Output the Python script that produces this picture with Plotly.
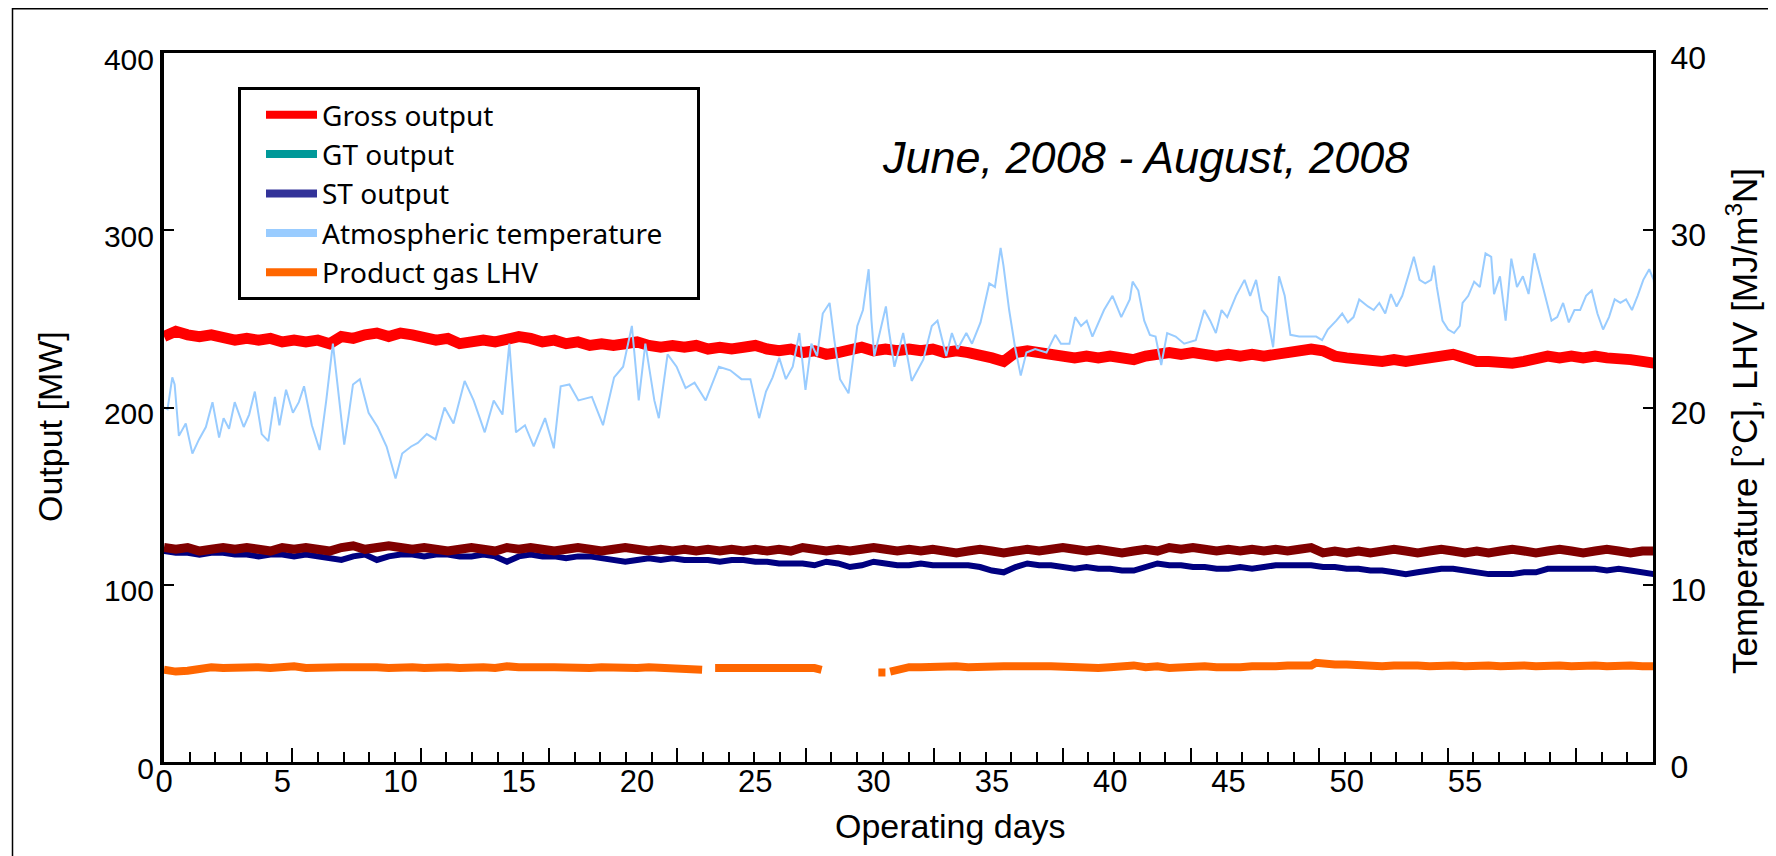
import plotly.graph_objects as go

# ---------------- data ----------------
out_days = [0, 0.5, 1, 1.5, 2, 2.5, 3, 3.5, 4, 4.5, 5, 5.5, 6, 6.5, 7, 7.5, 8, 8.5, 9, 9.5,
            10, 10.5, 11, 11.5, 12, 12.5, 13, 13.5, 14, 14.5, 15, 15.5, 16, 16.5, 17, 17.5, 18, 18.5, 19, 19.5,
            20, 20.5, 21, 21.5, 22, 22.5, 23, 23.5, 24, 24.5, 25, 25.5, 26, 26.5, 27, 27.5, 28, 28.5, 29, 29.5,
            30, 30.5, 31, 31.5, 32, 32.5, 33, 33.5, 34, 34.5, 35, 35.5, 36, 36.5, 37, 37.5, 38, 38.5, 39, 39.5,
            40, 40.5, 41, 41.5, 42, 42.5, 43, 43.5, 44, 44.5, 45, 45.5, 46, 46.5, 47, 47.5, 48, 48.5, 49, 49.5,
            50, 50.5, 51, 51.5, 52, 52.5, 53, 53.5, 54, 54.5, 55, 55.5, 56, 56.5, 57, 57.5, 58, 58.5, 59, 59.5,
            60, 60.5, 61, 61.5, 62, 62.5, 63]

gross_output = [240, 243, 241, 240, 241, 239, 238, 239, 238, 239,
                237, 238, 237, 238, 236, 240, 239, 241, 242, 240,
                242, 241, 239, 238, 239, 236, 237, 238, 237, 239,
                240, 239, 237, 238, 236, 237, 235, 236, 235, 236,
                237, 235, 234, 235, 234, 235, 233, 234, 233, 234,
                235, 233, 232, 233, 231, 232, 230, 231, 233, 234,
                232, 233, 232, 233, 232, 233, 231, 232, 231, 230,
                228, 226, 231, 232, 231, 230, 229, 228, 229, 228,
                229, 228, 227, 229, 230, 231, 230, 231, 230, 229,
                230, 229, 230, 229, 230, 231, 232, 233, 232, 229,
                228, 227, 227, 226, 227, 226, 227, 228, 229, 230,
                228, 226, 226, 225, 225, 226, 228, 229, 228, 229,
                228, 229, 228, 228, 227, 226, 225]

gt_output = [121, 120, 121, 119, 120, 121, 120, 121, 120, 119,
             121, 120, 121, 120, 119, 121, 122, 120, 121, 122,
             121, 120, 121, 120, 119, 120, 121, 120, 119, 121,
             120, 121, 120, 119, 120, 121, 120, 119, 120, 121,
             120, 119, 120, 119, 120, 119, 120, 119, 120, 119,
             120, 119, 120, 119, 121, 120, 119, 120, 119, 120,
             121, 120, 119, 120, 119, 120, 119, 118, 119, 120,
             119, 118, 119, 120, 119, 120, 121, 120, 119, 120,
             119, 118, 119, 120, 119, 121, 120, 121, 120, 119,
             120, 119, 120, 119, 120, 119, 120, 121, 118, 119,
             118, 119, 118, 119, 120, 119, 118, 119, 120, 119,
             118, 119, 118, 119, 120, 119, 118, 119, 120, 119,
             118, 119, 120, 119, 118, 119, 119]

st_output = [119, 118, 118, 117, 118, 118, 117, 117, 116, 117,
             117, 116, 117, 116, 115, 114, 116, 117, 114, 116,
             117, 117, 116, 117, 117, 116, 116, 117, 116, 113,
             116, 117, 116, 116, 115, 116, 116, 115, 114, 113,
             114, 115, 114, 115, 114, 114, 114, 113, 114, 114,
             113, 113, 112, 112, 112, 111, 113, 112, 110, 111,
             113, 112, 111, 111, 112, 111, 111, 111, 111, 110,
             108, 107, 110, 112, 111, 111, 110, 109, 110, 109,
             109, 108, 108, 110, 112, 111, 111, 110, 110, 109,
             109, 110, 109, 110, 111, 111, 111, 111, 110, 110,
             109, 109, 108, 108, 107, 106, 107, 108, 109, 109,
             108, 107, 106, 106, 106, 107, 107, 109, 109, 109,
             109, 109, 108, 109, 108, 107, 106]

temp_days = [0.0, 0.15, 0.35, 0.45, 0.63, 0.92, 1.2, 1.48, 1.77, 2.05, 2.33, 2.52, 2.75, 2.99, 3.37,
             3.6, 3.84, 4.13, 4.41, 4.69, 4.88, 5.16, 5.45, 5.7, 5.92, 6.25, 6.58, 6.86, 7.14, 7.33,
             7.62, 7.8, 7.99, 8.28, 8.65, 9.03, 9.41, 9.79, 10.07, 10.45, 10.73, 11.11, 11.48, 11.86, 12.24,
             12.71, 13.09, 13.56, 13.94, 14.31, 14.6, 14.88, 15.26, 15.63, 16.11, 16.48, 16.77, 17.14, 17.52, 18.09,
             18.56, 19.03, 19.41, 19.78, 20.07, 20.35, 20.73, 20.92, 21.29, 21.67, 22.05, 22.43, 22.9, 23.46, 23.94,
             24.41, 24.79, 25.16, 25.45, 25.73, 26.01, 26.29, 26.58, 26.86, 27.12, 27.37, 27.61, 27.85, 28.14, 28.34,
             28.58, 28.94, 29.31, 29.55, 29.79, 29.91, 30.03, 30.52, 30.64, 30.88, 31.25, 31.61, 31.85, 32.1, 32.46,
             32.7, 33.07, 33.31, 33.55, 33.92, 34.16, 34.52, 34.89, 35.13, 35.37, 35.49, 35.73, 35.98, 36.22, 36.46,
             36.83, 37.31, 37.68, 37.92, 38.28, 38.52, 38.77, 39.01, 39.25, 39.5, 39.74, 40.1, 40.47, 40.83, 40.95,
             41.19, 41.44, 41.68, 41.92, 42.16, 42.41, 42.77, 43.13, 43.62, 43.98, 44.23, 44.47, 44.71, 44.95, 45.32,
             45.68, 45.92, 46.17, 46.41, 46.65, 46.89, 47.14, 47.38, 47.62, 47.99, 48.35, 48.71, 48.96, 49.2, 49.56,
             49.81, 50.05, 50.29, 50.53, 50.9, 51.14, 51.38, 51.63, 51.87, 52.11, 52.35, 52.6, 52.84, 53.08, 53.32,
             53.57, 53.69, 53.81, 54.05, 54.29, 54.54, 54.78, 54.9, 55.14, 55.39, 55.63, 55.87, 56.11, 56.23, 56.48,
             56.72, 56.96, 57.2, 57.45, 57.69, 57.93, 58.18, 58.42, 58.66, 58.9, 59.15, 59.39, 59.63, 59.87, 60.12,
             60.36, 60.6, 60.84, 61.09, 61.33, 61.57, 61.81, 62.06, 62.3, 62.54, 62.79, 62.98, 63.08, 63.27]

atm_temperature = [20.0, 19.9, 21.7, 21.3, 18.4, 19.1, 17.4, 18.2, 18.9, 20.3, 18.3, 19.4, 18.8, 20.3, 18.9,
                   19.6, 20.9, 18.5, 18.1, 20.6, 19.0, 21.0, 19.7, 20.3, 21.2, 19.0, 17.6, 20.4, 23.6, 21.3,
                   17.9, 19.5, 21.3, 21.6, 19.7, 18.9, 17.8, 16.0, 17.4, 17.8, 18.0, 18.5, 18.2, 20.0, 19.1,
                   21.5, 20.4, 18.6, 20.4, 19.6, 23.6, 18.6, 19.0, 17.8, 19.4, 17.7, 21.2, 21.3, 20.4, 20.6,
                   19.0, 21.7, 22.3, 24.6, 20.4, 23.6, 20.4, 19.4, 23.0, 22.3, 21.1, 21.4, 20.4, 22.3, 22.1,
                   21.6, 21.6, 19.4, 20.9, 21.7, 22.8, 21.6, 22.3, 24.2, 21.0, 23.6, 22.9, 25.3, 25.9, 23.8,
                   21.6, 20.8, 24.6, 25.5, 27.8, 24.9, 22.9, 25.7, 24.4, 22.3, 24.2, 21.5, 22.1, 22.7, 24.6,
                   24.9, 22.9, 24.2, 23.3, 24.2, 23.6, 24.8, 27.0, 26.8, 29.0, 28.0, 25.5, 23.4, 21.8, 23.1,
                   23.3, 23.1, 24.1, 23.6, 23.6, 25.1, 24.6, 24.9, 24.0, 24.8, 25.5, 26.3, 25.1, 26.1, 27.1,
                   26.6, 24.9, 24.1, 24.0, 22.4, 24.2, 24.0, 23.6, 23.8, 25.5, 24.9, 24.2, 25.5, 25.1, 26.3,
                   27.2, 26.3, 27.2, 25.5, 25.1, 23.4, 27.4, 26.3, 24.1, 24.0, 24.0, 24.0, 23.8, 24.4, 24.9,
                   25.3, 24.8, 25.1, 26.1, 25.7, 25.5, 25.9, 25.3, 26.4, 25.7, 26.3, 27.4, 28.5, 27.2, 27.0,
                   27.2, 28.0, 26.8, 24.9, 24.4, 24.2, 24.6, 25.9, 26.3, 27.1, 26.8, 28.7, 28.5, 26.4, 27.4,
                   24.9, 28.4, 26.8, 27.4, 26.4, 28.7, 27.4, 26.1, 24.9, 25.1, 25.9, 24.8, 25.5, 25.5, 26.3,
                   26.6, 25.3, 24.4, 25.1, 26.1, 25.9, 26.1, 25.5, 26.3, 27.2, 27.8, 27.2, 25.7, 26.1]

lhv_days = [0, 0.5, 1, 1.5, 2, 2.5, 3, 3.5, 4, 4.5, 5, 5.5, 6, 6.5, 7, 7.5, 8, 8.5, 9, 9.5,
            10, 10.5, 11, 11.5, 12, 12.5, 13, 13.5, 14, 14.5, 15, 15.5, 16, 16.5, 17, 17.5, 18, 18.5, 19, 19.5,
            20, 20.5, 21, 21.5, 22, 22.5, 22.75, 23.0, 23.3, 23.5, 24, 24.5, 25, 25.5, 26, 26.5, 27, 27.5, 27.8,
            29.0, 30.2, 30.5, 30.6, 30.7, 30.9, 31.1, 31.5, 32, 32.5, 33, 33.5, 34, 34.5, 35, 35.5, 36, 36.5,
            37, 37.5, 38, 38.5, 39, 39.5, 40, 40.5, 41, 41.5, 42, 42.5, 43, 43.5, 44, 44.5, 45, 45.5, 46, 46.5,
            47, 47.5, 48, 48.5, 48.7, 49, 49.5, 50, 50.5, 51, 51.5, 52, 52.5, 53, 53.5, 54, 54.5, 55, 55.5,
            56, 56.5, 57, 57.5, 58, 58.5, 59, 59.5, 60, 60.5, 61, 61.5, 62, 62.5, 63, 63.3]

product_gas_lhv = [5.2, 5.1, 5.15, 5.3, 5.35, 5.3, 5.35, 5.3, 5.35, 5.3, 5.35, 5.4, 5.3, 5.35, 5.3, 5.35, 5.35, 5.4, 5.35, 5.3,
                   5.35, 5.35, 5.3, 5.35, 5.35, 5.3, 5.35, 5.35, 5.3, 5.4, 5.35, 5.3, 5.35, 5.35, 5.3, 5.35, 5.3, 5.35, 5.3, 5.35,
                   5.3, 5.35, 5.3, 5.3, 5.3, 5.25, 5.2, None, 5.3, 5.3, 5.35, 5.3, 5.3, 5.35, 5.3, 5.35, 5.35, 5.3, 5.2,
                   None, 5.05, 5.05, None, 5.1, 5.15, 5.3, 5.35, 5.35, 5.4, 5.35, 5.4, 5.35, 5.4, 5.35, 5.4, 5.4, 5.35,
                   5.4, 5.4, 5.35, 5.4, 5.35, 5.3, 5.35, 5.4, 5.45, 5.35, 5.4, 5.3, 5.35, 5.4, 5.4, 5.35, 5.3, 5.35, 5.4, 5.35,
                   5.4, 5.45, 5.4, 5.45, 5.6, 5.55, 5.5, 5.5, 5.45, 5.45, 5.4, 5.45, 5.5, 5.45, 5.4, 5.45, 5.45, 5.4, 5.45,
                   5.45, 5.4, 5.45, 5.45, 5.4, 5.45, 5.45, 5.4, 5.45, 5.45, 5.4, 5.45, 5.45, 5.4, 5.45, 5.4]

x_tick_labels = [0, 5, 10, 15, 20, 25, 30, 35, 40, 45, 50, 55]
left_ticks = [0, 100, 200, 300, 400]
right_ticks = [0, 10, 20, 30, 40]

legend_names = ["Gross output", "GT output", "ST output",
                "Atmospheric temperature\u00a0\u00a0\u00a0\u00a0", "Product gas LHV"]
legend_colors = ["#FF0000", "#009999", "#333399", "#99CCFF", "#FF6600"]

FONT = "Liberation Sans, Arial, Helvetica, sans-serif"
LEG_FONT = "Noto Sans, Liberation Sans, Arial, sans-serif"

# page has an 8px body margin: figure is drawn 8px lower/right than its own origin
OFF = 8
W, H = 1776 - OFF, 856 - OFF
PL, PT, PR, PB = 164, 53, 1653, 762          # plot area in page pixels
L, T = PL - OFF, PT - OFF
R = W - (PR - OFF)
B = H - (PB - OFF)
pw = PR - PL
ph = PB - PT


def px(xp):
    return (xp - PL) / pw


def py(yp):
    return (PB - yp) / ph


fig = go.Figure()

# legend entries (legend swatch colours differ from some line colours, as in the original)
for name, color in zip(legend_names, legend_colors):
    fig.add_trace(go.Scatter(x=[None], y=[None], xaxis="x2", yaxis="y", mode="lines", name=name,
                             line=dict(color=color, width=8), hoverinfo="skip"))

fig.add_trace(go.Scatter(x=out_days, y=gross_output, mode="lines", name="Gross output",
                         line=dict(color="#FF0000", width=11), showlegend=False))
fig.add_trace(go.Scatter(x=out_days, y=st_output, mode="lines", name="ST output",
                         line=dict(color="#000080", width=6), showlegend=False))
fig.add_trace(go.Scatter(x=out_days, y=gt_output, mode="lines", name="GT output",
                         line=dict(color="#800000", width=9), showlegend=False))
fig.add_trace(go.Scatter(x=lhv_days, y=product_gas_lhv, mode="lines", name="Product gas LHV",
                         yaxis="y2", connectgaps=False,
                         line=dict(color="#FF6600", width=8), showlegend=False))
fig.add_trace(go.Scatter(x=temp_days, y=atm_temperature, mode="lines", name="Atmospheric temperature",
                         yaxis="y2", line=dict(color="#99CCFF", width=2), showlegend=False))

fig.update_layout(
    width=W, height=H,
    margin=dict(l=L, r=R, t=T, b=B, autoexpand=False),
    paper_bgcolor="white", plot_bgcolor="white",
    font=dict(family=FONT, color="black"),
    xaxis=dict(range=[0, 62.95], tickvals=x_tick_labels, ticks="", showline=True,
               linecolor="black", linewidth=3, mirror=True, showgrid=False, zeroline=False,
               ticklabelstandoff=-10,
               tickfont=dict(size=31, family=FONT, color="black")),
    xaxis2=dict(overlaying="x", anchor="y", side="bottom", range=[0, 58], showline=False,
                ticks="inside", ticklen=14, tickwidth=2, tickcolor="black", dtick=5, tick0=0,
                showticklabels=False, showgrid=False, zeroline=False,
                minor=dict(ticks="inside", ticklen=10, tickwidth=2, tickcolor="black",
                           dtick=1, tick0=0, showgrid=False)),
    yaxis=dict(range=[0, 400], tickvals=left_ticks, ticks="inside", ticklen=10, tickwidth=2,
               tickcolor="black", showline=True, linecolor="black", linewidth=4,
               showgrid=False, zeroline=False, ticklabelshift=6,
               tickfont=dict(size=30, family=FONT, color="black")),
    yaxis2=dict(overlaying="y", anchor="x", side="right", range=[0, 40], tickvals=right_ticks,
                ticks="inside", ticklen=10, tickwidth=2, tickcolor="black", showline=True,
                linecolor="black", linewidth=3, showgrid=False, zeroline=False, ticklabelshift=5,
                ticklabelstandoff=8,
                tickfont=dict(size=32, family=FONT, color="black")),
    showlegend=True,
    legend=dict(x=px(238), y=py(87), xanchor="left", yanchor="top", bgcolor="white",
                bordercolor="black", borderwidth=3, itemwidth=51, indentation=20,
                font=dict(size=28, family=LEG_FONT, color="black"), tracegroupgap=0),
    annotations=[
        dict(text="<i>June, 2008 - August, 2008</i>", x=px(1145), y=py(157), xref="paper", yref="paper",
             showarrow=False, font=dict(size=45, family=FONT, color="black"),
             xanchor="center", yanchor="middle"),
        dict(text="Output [MW]", x=px(50), y=py(427), xref="paper", yref="paper", textangle=-90,
             showarrow=False, font=dict(size=34, family=FONT, color="black"),
             xanchor="center", yanchor="middle"),
        dict(text="Temperature [°C], LHV [MJ/m<sup>3</sup>N]", x=px(1742), y=py(421), xref="paper",
             yref="paper", textangle=-90, showarrow=False,
             font=dict(size=35, family=FONT, color="black"), xanchor="center", yanchor="middle"),
        dict(text="Operating days", x=px(950), y=py(826), xref="paper", yref="paper",
             showarrow=False, font=dict(size=34, family=FONT, color="black"),
             xanchor="center", yanchor="middle"),
    ],
    shapes=[
        dict(type="rect", xref="paper", yref="paper", x0=px(12.5), x1=px(1800), y0=py(880), y1=py(8.8),
             line=dict(color="black", width=1.5), fillcolor="rgba(0,0,0,0)", layer="below"),
    ],
)

fig.write_html("out.html")
